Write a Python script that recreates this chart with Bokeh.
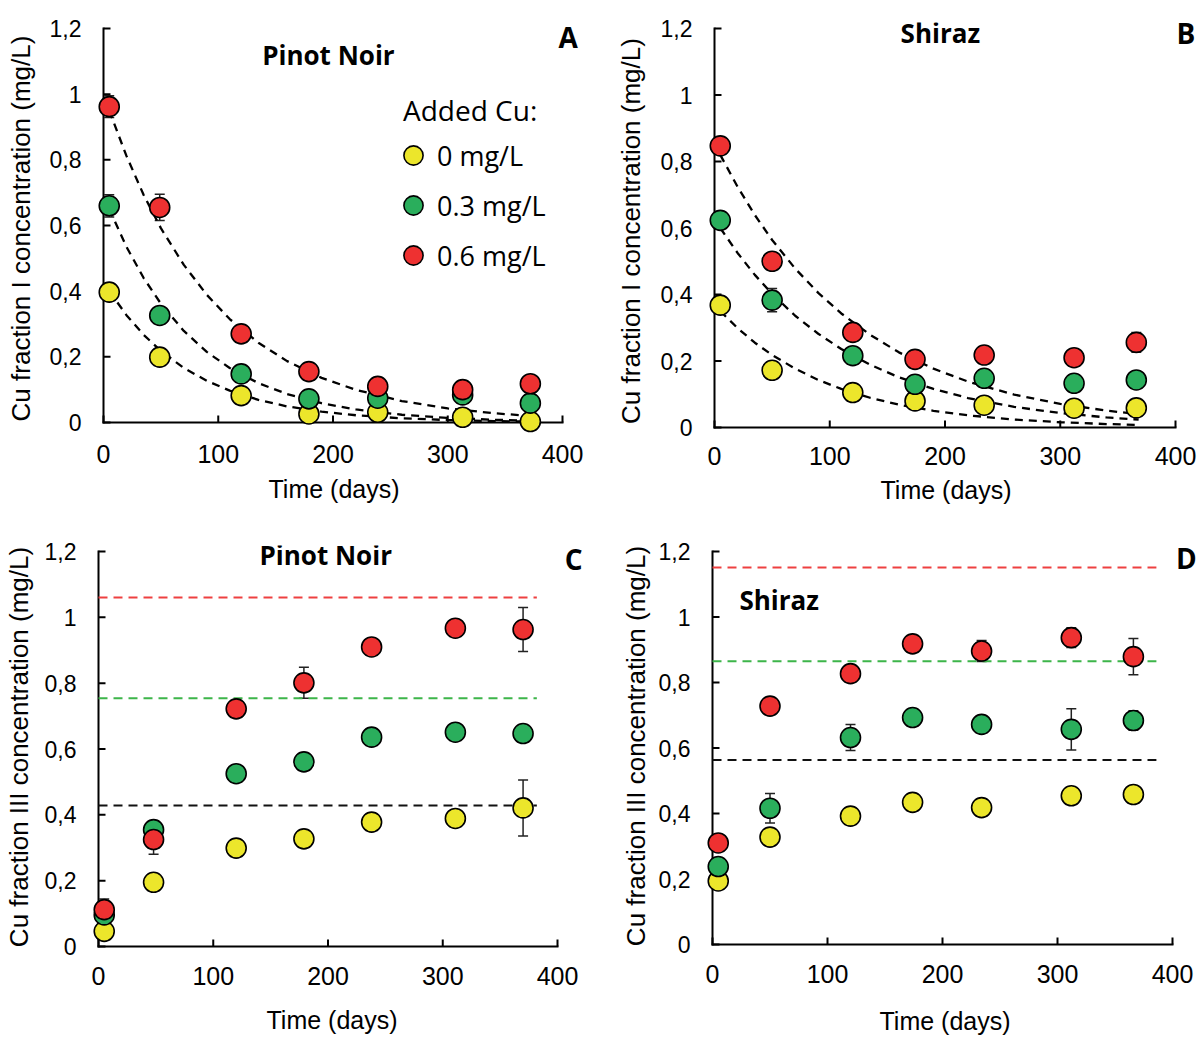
import math
from bokeh.plotting import figure
from bokeh.models import (Range1d, FixedTicker, Whisker, TeeHead, ColumnDataSource,
                          Legend, LegendItem, Label)
from bokeh.layouts import column, row
from bokeh.embed import file_html
from bokeh.resources import INLINE

# ---------------- data ----------------
legend_title = "Added Cu:"
series_labels = ["0 mg/L", "0.3 mg/L", "0.6 mg/L"]
x_ticks = [0, 100, 200, 300, 400]
y_ticks = [0, 0.2, 0.4, 0.6, 0.8, 1.0, 1.2]
y_tick_labels = ["0", "0,2", "0,4", "0,6", "0,8", "1", "1,2"]

# Panel A - Pinot Noir, Cu fraction I
days_A = [5, 49, 120, 179, 239, 313, 372]
A_0 = [0.397, 0.199, 0.082, 0.026, 0.031, 0.016, 0.003]
A_03 = [0.660, 0.326, 0.148, 0.072, 0.074, 0.084, 0.059]
A_06 = [0.962, 0.655, 0.270, 0.155, 0.110, 0.100, 0.118]
A_0_err = [0.010, 0.010, 0.010, 0.010, 0.010, 0.010, 0.010]
A_03_err = [0.034, 0.010, 0.010, 0.010, 0.010, 0.010, 0.010]
A_06_err = [0.033, 0.040, 0.010, 0.010, 0.010, 0.010, 0.010]
fit_days_A = [5, 20, 35, 50, 70, 90, 110, 135, 160, 190, 220, 260, 300, 340, 375]
fit_A_0 = [0.400, 0.327, 0.267, 0.218, 0.166, 0.127, 0.097, 0.069, 0.049, 0.033, 0.022, 0.0128, 0.0075, 0.0043, 0.0027]
fit_A_03 = [0.650, 0.535, 0.440, 0.362, 0.279, 0.215, 0.166, 0.120, 0.0867, 0.0587, 0.0397, 0.0236, 0.0140, 0.0083, 0.0053]
fit_A_06 = [0.950, 0.812, 0.693, 0.592, 0.480, 0.389, 0.315, 0.243, 0.187, 0.136, 0.0994, 0.0653, 0.0429, 0.0282, 0.0195]

# Panel B - Shiraz, Cu fraction I
days_B = [5, 50, 120, 174, 234, 312, 366]
B_0 = [0.368, 0.172, 0.105, 0.080, 0.067, 0.058, 0.059]
B_03 = [0.623, 0.383, 0.216, 0.130, 0.148, 0.133, 0.143]
B_06 = [0.847, 0.500, 0.286, 0.205, 0.218, 0.210, 0.256]
B_0_err = [0.022, 0.010, 0.010, 0.010, 0.010, 0.010, 0.010]
B_03_err = [0.010, 0.035, 0.010, 0.010, 0.010, 0.010, 0.010]
B_06_err = [0.010, 0.010, 0.010, 0.010, 0.010, 0.010, 0.030]
fit_days_B = [5, 20, 35, 50, 70, 90, 110, 135, 160, 190, 220, 260, 300, 340, 368]
fit_B_0 = [0.350, 0.299, 0.255, 0.218, 0.177, 0.143, 0.116, 0.0894, 0.0687, 0.0502, 0.0366, 0.0240, 0.0158, 0.0104, 0.0078]
fit_B_03 = [0.600, 0.525, 0.459, 0.402, 0.336, 0.282, 0.236, 0.189, 0.151, 0.116, 0.0886, 0.062, 0.0434, 0.0304, 0.0237]
fit_B_06 = [0.820, 0.724, 0.639, 0.564, 0.478, 0.405, 0.343, 0.279, 0.226, 0.177, 0.138, 0.0988, 0.0709, 0.0508, 0.0403]

# Panel C - Pinot Noir, Cu fraction III
days_C = [5, 48, 120, 179, 238, 311, 370]
C_0 = [0.046, 0.195, 0.299, 0.327, 0.378, 0.389, 0.421]
C_03 = [0.096, 0.355, 0.525, 0.561, 0.636, 0.651, 0.647]
C_06 = [0.112, 0.325, 0.722, 0.801, 0.910, 0.967, 0.963]
C_0_err = [0.010, 0.010, 0.010, 0.010, 0.010, 0.010, 0.085]
C_03_err = [0.010, 0.010, 0.010, 0.010, 0.010, 0.010, 0.010]
C_06_err = [0.032, 0.045, 0.010, 0.047, 0.020, 0.010, 0.067]
plateau_x_C = [0, 382]
plateau_C = [0.428, 0.754, 1.060]

# Panel D - Shiraz, Cu fraction III
days_D = [5, 50, 120, 174, 234, 312, 366]
D_0 = [0.194, 0.328, 0.392, 0.434, 0.418, 0.454, 0.458]
D_03 = [0.238, 0.416, 0.632, 0.693, 0.672, 0.657, 0.684]
D_06 = [0.310, 0.728, 0.827, 0.918, 0.896, 0.937, 0.879]
D_0_err = [0.010, 0.010, 0.010, 0.010, 0.010, 0.010, 0.010]
D_03_err = [0.010, 0.045, 0.040, 0.010, 0.010, 0.063, 0.030]
D_06_err = [0.010, 0.015, 0.010, 0.010, 0.032, 0.030, 0.055]
plateau_x_D = [0, 386]
plateau_D = [0.563, 0.865, 1.151]

# ---------------- style ----------------
MARK_COLORS = ["#ECE62B", "#2AAE5C", "#EE3131"]
PLATEAU_COLORS = ["#111111", "#3DB54A", "#EE4040"]
TICK_FONT = "Liberation Sans"
TITLE_FONT = "Open Sans"


def make_panel(g, ylabel, yl_standoff, x_label_standoff, x_title_standoff):
    pxd = (g["x400"] - g["x0"]) / 400.0
    pyu = (g["y0"] - g["y12"]) / 1.2
    frame_left = g["x0"] - g["pl"]
    frame_w = g["x400"] - g["x0"] + g["pl"] + g["pr"]
    frame_top = g["y12"] - g["pt"]
    frame_h = g["y0"] - g["y12"] + g["pt"] + g["pb"]
    p = figure(
        title=None,
        x_range=Range1d(-g["pl"] / pxd, 400 + g["pr"] / pxd),
        y_range=Range1d(-g["pb"] / pyu, 1.2 + g["pt"] / pyu),
        frame_width=frame_w, frame_height=frame_h,
        min_border_left=frame_left, min_border_right=g["W"] - frame_left - frame_w,
        min_border_top=frame_top, min_border_bottom=g["H"] - frame_top - frame_h,
        output_backend="svg", toolbar_location=None,
    )
    p.outline_line_color = None
    p.xgrid.visible = False
    p.ygrid.visible = False
    p.background_fill_color = "white"
    p.border_fill_color = "white"

    for ax in (p.xaxis[0], p.yaxis[0]):
        ax.axis_line_color = None
        ax.major_tick_line_color = None
        ax.minor_tick_line_color = None
        ax.major_tick_in = 0
        ax.major_tick_out = 0
        ax.major_label_text_font = TICK_FONT
        ax.major_label_text_color = "black"
        ax.axis_label_text_font = TICK_FONT
        ax.axis_label_text_font_style = "normal"
        ax.axis_label_text_color = "black"
        ax.axis_label_text_font_size = "25px"

    xa = p.xaxis[0]
    xa.ticker = FixedTicker(ticks=x_ticks)
    xa.major_label_text_font_size = "25px"
    xa.major_label_standoff = x_label_standoff
    xa.axis_label = "Time (days)"
    xa.axis_label_standoff = x_title_standoff

    ya = p.yaxis[0]
    ya.ticker = FixedTicker(ticks=y_ticks)
    ya.major_label_overrides = {t: s for t, s in zip(y_ticks, y_tick_labels)}
    ya.major_label_text_font_size = "23px"
    ya.major_label_standoff = 22 - g["pl"]
    ya.axis_label = ylabel
    ya.axis_label_text_font_size = "26px"
    ya.axis_label_standoff = yl_standoff

    # axis lines and inward ticks drawn at data zero
    p.segment(x0=[x_ticks[0], x_ticks[0]], y0=[y_ticks[0], y_ticks[0]],
              x1=[x_ticks[-1], x_ticks[0]], y1=[y_ticks[0], y_ticks[-1]],
              line_color="black", line_width=2, line_cap="square")
    p.ray(x=[0] * len(y_ticks), y=y_ticks, length=7, length_units="screen",
          angle=0, line_color="black", line_width=2)
    p.ray(x=x_ticks, y=[0] * len(x_ticks), length=7, length_units="screen",
          angle=math.pi / 2, line_color="black", line_width=2)
    return p


def add_points(p, days, vals, errs):
    srcs = []
    for v, e in zip(vals, errs):
        src = ColumnDataSource(dict(x=days, y=v,
                                    upper=[a + b for a, b in zip(v, e)],
                                    lower=[a - b for a, b in zip(v, e)]))
        w = Whisker(source=src, base="x", upper="upper", lower="lower",
                    line_color="#222222", line_width=1.5, level="underlay",
                    upper_head=TeeHead(size=10, line_color="#222222", line_width=1.5),
                    lower_head=TeeHead(size=10, line_color="#222222", line_width=1.5))
        p.add_layout(w)
        srcs.append(src)
    out = []
    for src, col in zip(srcs, MARK_COLORS):
        r = p.scatter("x", "y", source=src, size=20, fill_color=col,
                      line_color="black", line_width=1.6)
        out.append(r)
    return out


def add_text(p, x, y, text, size, bold=True, align="center"):
    p.add_layout(Label(x=x, y=y, text=text, text_font=TITLE_FONT,
                       text_font_size=size, text_font_style="bold" if bold else "normal",
                       text_align=align, text_baseline="middle", text_color="black"))


# geometry (pixel layout of each panel)
gA = dict(x0=103, x400=562, y12=28, y0=422, pl=20, pr=22, pt=6, pb=12, W=600, H=519)
gB = dict(x0=114, x400=575, y12=25, y0=424, pl=20, pr=22, pt=6, pb=12, W=597, H=519)
gC = dict(x0=98, x400=557, y12=32, y0=427, pl=20, pr=28, pt=6, pb=2, W=600, H=516)
gD = dict(x0=112, x400=572, y12=30, y0=423, pl=20, pr=25, pt=6, pb=2, W=597, H=516)

ylab1 = "Cu fraction I concentration (mg/L)"
ylab3 = "Cu fraction III concentration (mg/L)"
DASH_FIT = "8 6"
DASH_PLATEAU = "9 6"

# ---- A ----
pA = make_panel(gA, ylab1, 11, 10, 9)
for fy in (fit_A_0, fit_A_03, fit_A_06):
    pA.line(fit_days_A, fy, line_color="black", line_width=2.3, line_dash=DASH_FIT)
rA = add_points(pA, days_A, [A_0, A_03, A_06], [A_0_err, A_03_err, A_06_err])
add_text(pA, 196, 1.12, "Pinot Noir", "26px")
add_text(pA, 405, 1.174, "A", "28px")
add_text(pA, 261, 0.953, legend_title, "28px", bold=False, align="left")
leg = Legend(items=[LegendItem(label=l, renderers=[r]) for l, r in zip(series_labels, rA)],
             location=(306, 155),
             label_text_font=TITLE_FONT, label_text_font_size="27px", label_text_color="black",
             glyph_width=48, glyph_height=48, label_standoff=0, spacing=2,
             padding=0, margin=0, border_line_alpha=0, background_fill_alpha=0)
pA.add_layout(leg)

# ---- B ----
pB = make_panel(gB, ylab1, 12, 7, 8)
for fy in (fit_B_0, fit_B_03, fit_B_06):
    pB.line(fit_days_B, fy, line_color="black", line_width=2.3, line_dash=DASH_FIT)
add_points(pB, days_B, [B_0, B_03, B_06], [B_0_err, B_03_err, B_06_err])
add_text(pB, 196, 1.186, "Shiraz", "26px")
add_text(pB, 409, 1.185, "B", "28px")

# ---- C ----
pC = make_panel(gC, ylab3, 8, 18, 18)
for v, col in zip(plateau_C, PLATEAU_COLORS):
    pC.line(plateau_x_C, [v, v], line_color=col, line_width=2, line_dash=DASH_PLATEAU)
add_points(pC, days_C, [C_0, C_03, C_06], [C_0_err, C_03_err, C_06_err])
add_text(pC, 198, 1.188, "Pinot Noir", "26px")
add_text(pC, 414, 1.176, "C", "28px")

# ---- D ----
pD = make_panel(gD, ylab3, 5, 18, 21)
for v, col in zip(plateau_D, PLATEAU_COLORS):
    pD.line(plateau_x_D, [v, v], line_color=col, line_width=2, line_dash=DASH_PLATEAU)
add_points(pD, days_D, [D_0, D_03, D_06], [D_0_err, D_03_err, D_06_err])
add_text(pD, 58, 1.053, "Shiraz", "26px")
add_text(pD, 412, 1.179, "D", "28px")

layout = column(row(pA, pB), row(pC, pD))
open("out.html", "w").write(file_html(layout, INLINE))
